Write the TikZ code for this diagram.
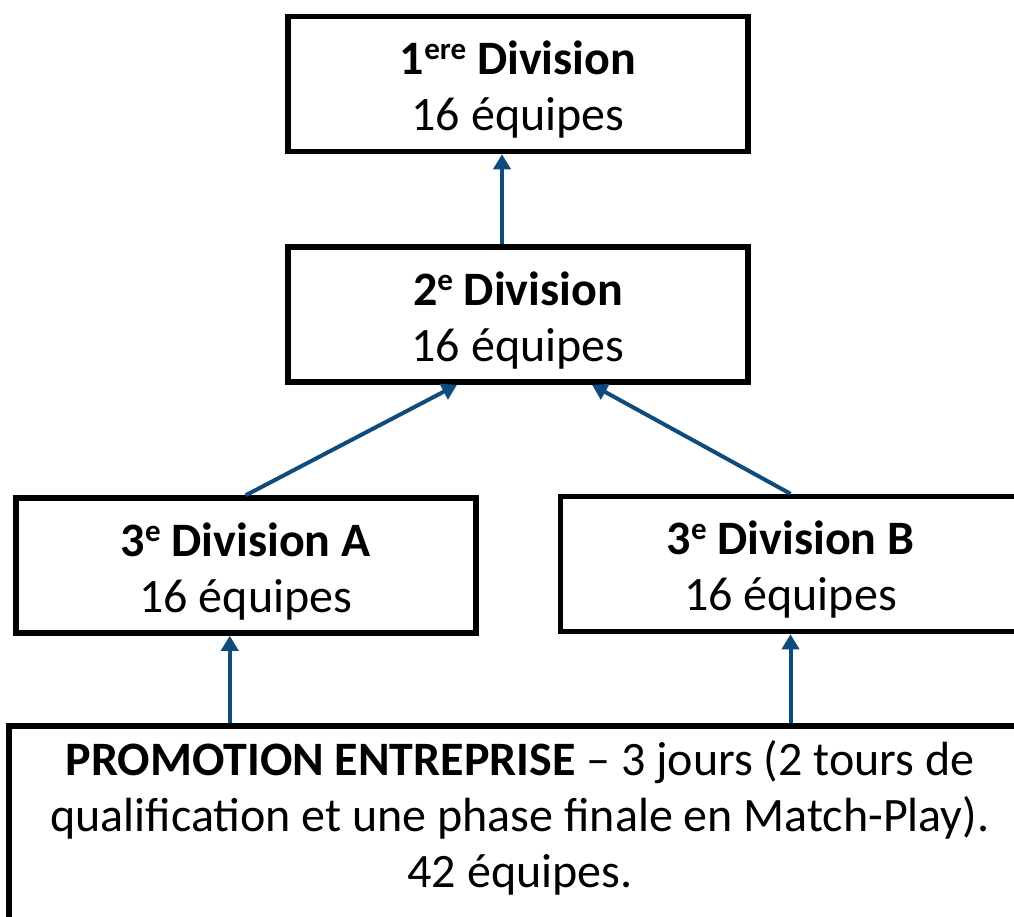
\documentclass[tikz,border=0pt]{standalone}
\usepackage{fontspec}
\setmainfont{Carlito}
\usetikzlibrary{arrows.meta,calc}
\definecolor{arrowblue}{RGB}{16,75,125}
\newcommand{\expo}[1]{\raisebox{15pt}{\fontsize{31}{31}\selectfont #1}}

\begin{document}
\begin{tikzpicture}[x=1pt,y=-1pt,
    divbox/.style={draw, line width=5.5pt, minimum width=460pt, minimum height=135pt,
        inner sep=0pt, align=center, font=\fontsize{48}{56}\selectfont},
    promobox/.style={draw, line width=5.5pt, minimum width=1022pt,
        inner xsep=0pt, inner ysep=0pt, align=center, font=\fontsize{48}{56}\selectfont},
    uparrow/.style={arrowblue, line width=4pt, -{Triangle[length=15pt,width=17pt]}}]

\useasboundingbox (0,0) rectangle (1014,916);
\clip (0,0) rectangle (1014,916);

\node[divbox] (div1) at (518,84) {\rule{0pt}{45pt}\textbf{1\expo{ere} Division}\\16 équipes};
\node[divbox] (div2) at (518,314.5) {\rule{0pt}{45pt}\textbf{2\expo{e} Division}\\16 équipes};

\node[divbox] (divA) at (245.75,565.5) {\rule{0pt}{45pt}\textbf{3\expo{e} Division A}\\16 équipes};
\node[divbox] (divB) at (790.5,564) {\rule{0pt}{45pt}\textbf{3\expo{e} Division B}\\16 équipes};

\node[promobox, anchor=north west] (promo) at (6.25,723.25) {\rule{0pt}{49pt}\textbf{PROMOTION ENTREPRISE} -- 3 jours (2 tours de\\qualification et une phase finale en Match-Play).\\42 équipes.\rule[-40pt]{0pt}{0pt}};

% arrows up the divisions
\coordinate (p12) at ($(div2.north)+(-16,0)$);
\coordinate (pA) at ($(divA.south)+(-16,0)$);
\draw[uparrow] (p12) -- (p12 |- div1.south);
\draw[uparrow] (divA.north) -- ($(div2.south west)!0.369!(div2.south east)$);
\draw[uparrow] (divB.north) -- ($(div2.south west)!0.659!(div2.south east)$);
\draw[uparrow] (pA |- promo.north) -- (pA);
\draw[uparrow] (divB.south |- promo.north) -- (divB.south);

\end{tikzpicture}
\end{document}
